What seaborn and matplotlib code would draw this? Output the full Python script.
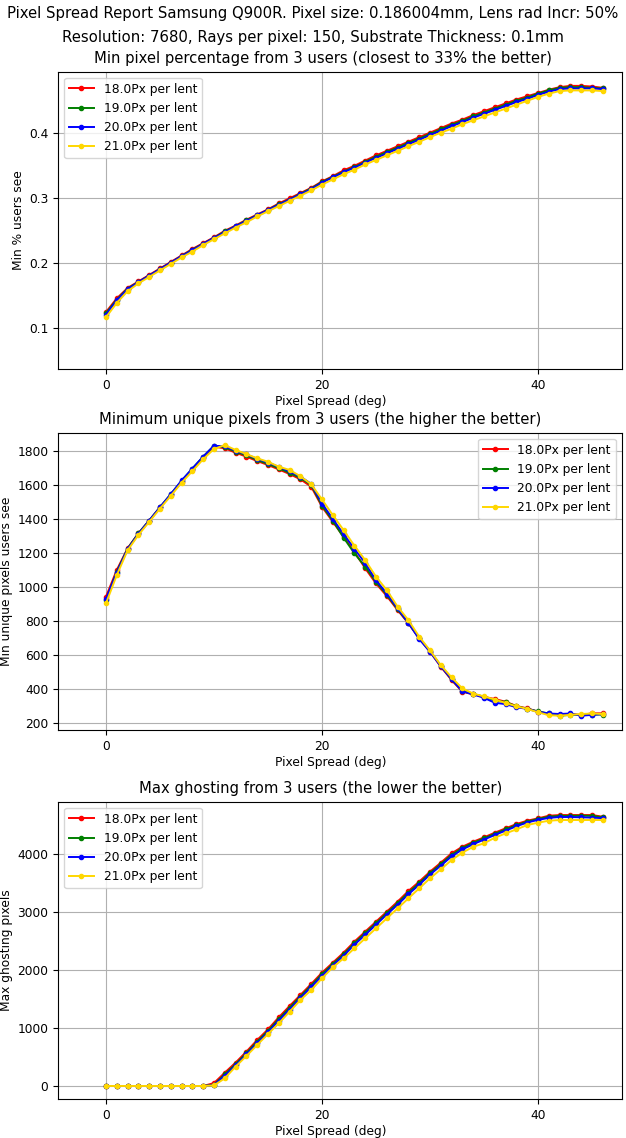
import pandas as pd
import matplotlib
matplotlib.use("Agg")
import matplotlib.pyplot as plt
import seaborn as sns

# ==================================================
# DATA
# ==================================================

spread = list(range(47))

series_labels = ["18.0Px per lent", "19.0Px per lent", "20.0Px per lent", "21.0Px per lent"]
series_colors = ["red", "green", "blue", "gold"]

pct_18 = [0.125, 0.146, 0.162, 0.172, 0.182, 0.192, 0.202, 0.212, 0.222, 0.231, 0.240, 0.250,
          0.258, 0.267, 0.275, 0.283, 0.292, 0.300, 0.308, 0.316, 0.326, 0.334, 0.343, 0.350,
          0.358, 0.366, 0.373, 0.380, 0.387, 0.394, 0.401, 0.408, 0.415, 0.421, 0.428, 0.434,
          0.440, 0.446, 0.452, 0.457, 0.462, 0.467, 0.471, 0.473, 0.473, 0.472, 0.470]
pct_19 = [0.123, 0.144, 0.161, 0.171, 0.181, 0.191, 0.201, 0.211, 0.221, 0.230, 0.239, 0.249,
          0.257, 0.266, 0.274, 0.282, 0.291, 0.298, 0.307, 0.315, 0.325, 0.333, 0.341, 0.348,
          0.356, 0.364, 0.371, 0.378, 0.385, 0.392, 0.399, 0.406, 0.413, 0.419, 0.426, 0.432,
          0.438, 0.444, 0.450, 0.455, 0.461, 0.466, 0.470, 0.471, 0.471, 0.470, 0.469]
pct_20 = [0.121, 0.143, 0.160, 0.171, 0.181, 0.191, 0.201, 0.211, 0.220, 0.230, 0.239, 0.248,
          0.257, 0.265, 0.274, 0.282, 0.290, 0.298, 0.306, 0.314, 0.324, 0.332, 0.340, 0.347,
          0.355, 0.362, 0.369, 0.376, 0.383, 0.390, 0.397, 0.404, 0.411, 0.417, 0.424, 0.430,
          0.436, 0.442, 0.448, 0.453, 0.459, 0.464, 0.468, 0.469, 0.469, 0.469, 0.468]
pct_21 = [0.117, 0.139, 0.157, 0.169, 0.179, 0.189, 0.199, 0.209, 0.218, 0.228, 0.237, 0.246,
          0.255, 0.263, 0.272, 0.280, 0.288, 0.296, 0.304, 0.312, 0.321, 0.329, 0.337, 0.344,
          0.352, 0.359, 0.366, 0.373, 0.380, 0.387, 0.394, 0.401, 0.407, 0.414, 0.420, 0.426,
          0.432, 0.438, 0.444, 0.450, 0.456, 0.461, 0.465, 0.466, 0.466, 0.466, 0.465]

uniq_18 = [943, 1100, 1227, 1315, 1389, 1467, 1540, 1618, 1687, 1755, 1823, 1814, 1788, 1765,
           1739, 1716, 1690, 1663, 1632, 1589, 1471, 1383, 1295, 1207, 1110, 1021, 947, 865,
           787, 699, 621, 533, 454, 386, 370, 356, 343, 327, 302, 288, 269, 255, 249, 255,
           249, 259, 259]
uniq_19 = [925, 1090, 1225, 1315, 1390, 1468, 1545, 1622, 1695, 1765, 1829, 1820, 1795, 1772,
           1745, 1722, 1697, 1670, 1640, 1600, 1478, 1390, 1290, 1198, 1120, 1030, 955, 870,
           790, 700, 625, 538, 458, 390, 372, 357, 335, 325, 300, 286, 270, 258, 245, 250,
           250, 252, 252]
uniq_20 = [930, 1085, 1222, 1312, 1390, 1468, 1545, 1625, 1695, 1765, 1829, 1825, 1800, 1778,
           1752, 1730, 1705, 1678, 1648, 1605, 1490, 1400, 1310, 1225, 1140, 1040, 962, 875,
           790, 695, 620, 535, 460, 388, 370, 350, 321, 313, 295, 285, 268, 258, 255, 258,
           245, 250, 255]
uniq_21 = [904, 1070, 1215, 1305, 1382, 1460, 1535, 1612, 1680, 1750, 1810, 1833, 1804, 1780,
           1755, 1735, 1706, 1687, 1650, 1603, 1514, 1422, 1334, 1243, 1158, 1061, 982, 885,
           806, 709, 628, 542, 470, 405, 375, 358, 340, 320, 300, 285, 265, 248, 245, 250,
           255, 258, 255]

ghost_18 = [0, 0, 0, 0, 0, 0, 0, 0, 0, 0, 50, 230, 403, 593, 794, 978, 1186, 1381, 1571, 1761,
            1957, 2129, 2302, 2492, 2665, 2837, 3010, 3183, 3367, 3528, 3700, 3856, 4017, 4132,
            4218, 4293, 4374, 4449, 4523, 4581, 4621, 4667, 4679, 4679, 4679, 4679, 4650]
ghost_19 = [0, 0, 0, 0, 0, 0, 0, 0, 0, 0, 20, 200, 375, 565, 765, 950, 1155, 1350, 1545, 1735,
            1930, 2105, 2275, 2465, 2640, 2810, 2985, 3155, 3340, 3500, 3675, 3830, 3990, 4110,
            4200, 4275, 4355, 4430, 4505, 4565, 4610, 4650, 4665, 4665, 4668, 4665, 4640]
ghost_20 = [0, 0, 0, 0, 0, 0, 0, 0, 0, 0, 15, 180, 355, 545, 740, 925, 1130, 1320, 1520, 1710,
            1900, 2080, 2250, 2440, 2610, 2785, 2960, 3130, 3310, 3475, 3650, 3805, 3965, 4085,
            4175, 4255, 4335, 4410, 4485, 4550, 4595, 4630, 4645, 4645, 4640, 4635, 4625]
ghost_21 = [0, 0, 0, 0, 0, 0, 0, 0, 0, 0, 10, 132, 334, 518, 708, 898, 1082, 1283, 1485, 1657,
            1859, 2049, 2204, 2377, 2550, 2722, 2895, 3067, 3240, 3413, 3585, 3741, 3902, 4029,
            4132, 4190, 4287, 4362, 4431, 4506, 4547, 4581, 4593, 4593, 4593, 4593, 4593]

# ==================================================
# STYLING
# ==================================================

plt.rcParams["font.family"] = ["DejaVu Sans"]
plt.rcParams["font.size"] = 8.85
plt.rcParams["axes.titlesize"] = 10.6
plt.rcParams["axes.labelsize"] = 8.85
plt.rcParams["xtick.labelsize"] = 8.85
plt.rcParams["ytick.labelsize"] = 8.85
plt.rcParams["legend.fontsize"] = 8.85

fig = plt.figure(figsize=(6.26, 11.38), dpi=100)

panels = [
    {
        "values": [pct_18, pct_19, pct_20, pct_21],
        "title": "Min pixel percentage from 3 users (closest to 33% the better)",
        "ylabel": "Min % users see",
        "ylim": (0.0369, 0.4948),
        "legend": "upper left",
        "rect": [0.0927, 0.6755, 0.9009, 0.2615],
        "title_x": 0.470,
    },
    {
        "values": [uniq_18, uniq_19, uniq_20, uniq_21],
        "title": "Minimum unique pixels from 3 users (the higher the better)",
        "ylabel": "Min unique pixels users see",
        "ylim": (161, 1905.6),
        "legend": "upper right",
        "rect": [0.0927, 0.3585, 0.9009, 0.2613],
        "title_x": 0.465,
    },
    {
        "values": [ghost_18, ghost_19, ghost_20, ghost_21],
        "title": "Max ghosting from 3 users (the lower the better)",
        "ylabel": "Max ghosting pixels",
        "ylim": (-230, 4909),
        "legend": "upper left",
        "rect": [0.0927, 0.0340, 0.9009, 0.2615],
        "title_x": 0.465,
    },
]

for panel in panels:
    ax = fig.add_axes(panel["rect"])
    ax.grid(True, color="#b0b0b0", linewidth=0.8)
    ax.set_axisbelow(True)

    for vals, label, color in zip(panel["values"], series_labels, series_colors):
        df = pd.DataFrame({"spread": spread, "value": vals})
        sns.lineplot(
            data=df,
            x="spread",
            y="value",
            ax=ax,
            color=color,
            label=label,
            marker=".",
            markersize=6,
            markeredgecolor=color,
            markeredgewidth=1,
            linewidth=1.4,
        )

    ax.set_xlim(-4.44, 47.78)
    ax.set_ylim(*panel["ylim"])
    ax.set_xticks([0, 20, 40])
    ax.set_title(panel["title"], x=panel["title_x"])
    ax.set_xlabel("Pixel Spread (deg)", labelpad=2, x=0.484)
    ax.set_ylabel(panel["ylabel"], labelpad=3)
    ax.legend(loc=panel["legend"])

fig.suptitle(
    "Pixel Spread Report Samsung Q900R. Pixel size: 0.186004mm, Lens rad Incr: 50%\n"
    "Resolution: 7680, Rays per pixel: 150, Substrate Thickness: 0.1mm",
    fontsize=10.75,
    linespacing=1.75,
    y=0.995,
)

plt.savefig("out.png", dpi=100)
